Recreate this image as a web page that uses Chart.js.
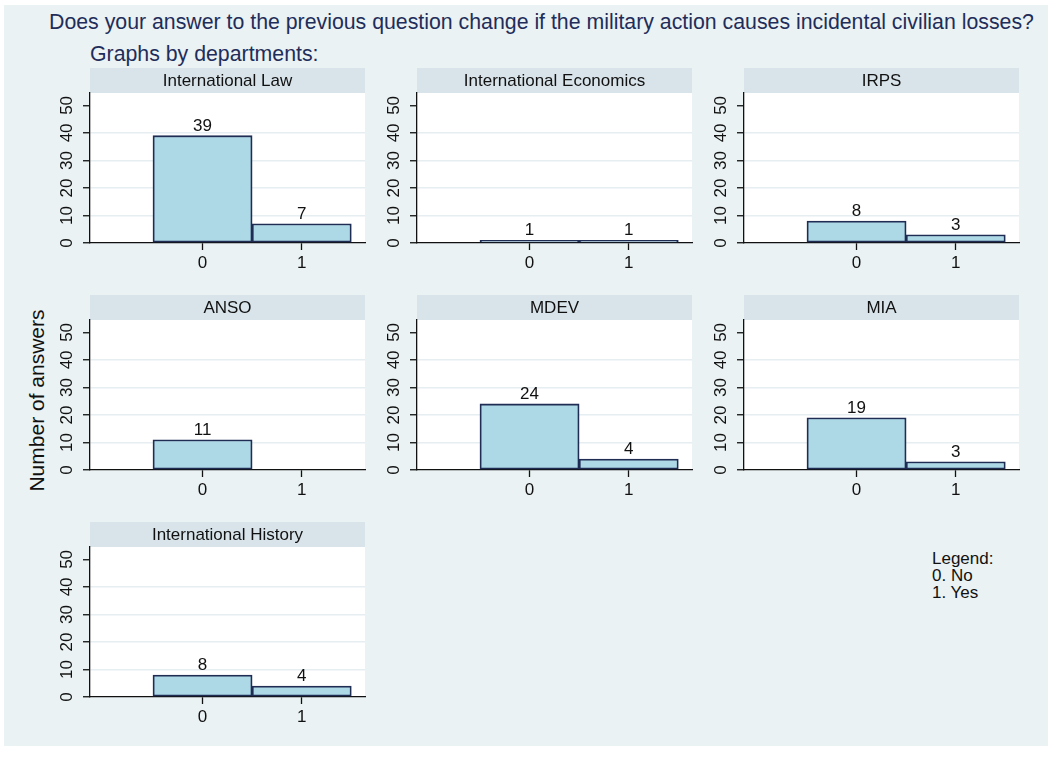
<!DOCTYPE html>
<html>
<head>
<meta charset="utf-8">
<script src="https://cdn.jsdelivr.net/npm/chart.js@4.4.1/dist/chart.umd.min.js"></script>
<style>
  html, body { margin: 0; padding: 0; background: #fff; }
  #page { position: relative; width: 1048px; height: 759px; overflow: hidden; font-family: "Liberation Sans", Arial, Helvetica, sans-serif; }
  #bg { position: absolute; left: 4px; top: 5px; width: 1044px; height: 741px; background: #eaf2f3; }
  .txt { position: absolute; white-space: nowrap; }
  #title { left: 49px; top: 11.6px; font-size: 21.3px; line-height: 21px; color: #1f2d5a; }
  #subtitle { left: 90px; top: 44.4px; font-size: 21.3px; line-height: 21px; color: #1f2d5a; }
  #ytitle { left: -114px; top: 390px; width: 300px; text-align: center; font-size: 21px; line-height: 21px; color: #111; transform: rotate(-90deg); }
  #legend { left: 932px; top: 549.6px; font-size: 17px; line-height: 17px; color: #111; }
  canvas { position: absolute; }
</style>
</head>
<body>
<div id="page">
  <div id="bg"></div>
  <div class="txt" id="title">Does your answer to the previous question change if the military action causes incidental civilian losses?</div>
  <div class="txt" id="subtitle">Graphs by departments:</div>
  <div class="txt" id="ytitle">Number of answers</div>
  <div class="txt" id="legend"></div>
</div>
<script>
// data
const departments = ['International Law', 'International Economics', 'IRPS', 'ANSO', 'MDEV', 'MIA', 'International History'];
const noCounts = [39, 1, 8, 11, 24, 19, 8];
const yesCounts = [7, 1, 3, 0, 4, 3, 4];
const answerCodes = [0, 1];
const yTickValues = [0, 10, 20, 30, 40, 50];
const legendLines = ['Legend:', '0. No', '1. Yes'];

// layout
const plotLefts = [90, 417, 744];
const stripTops = [68, 295, 522];
const stripH = 25, plotW = 275, plotH = 150;
const yAxisW = 50, xAxisH = 40, padRight = 5;
const FONT = '"Liberation Sans", Arial, Helvetica, sans-serif';

document.getElementById('legend').innerHTML = legendLines.join('<br>');

const panelDecor = {
  id: 'panelDecor',
  beforeDraw(chart) {
    const { ctx, chartArea: a } = chart;
    ctx.save();
    ctx.fillStyle = '#d8e4ea';
    ctx.fillRect(a.left, a.top - stripH, a.right - a.left, stripH);
    ctx.fillStyle = '#ffffff';
    ctx.fillRect(a.left, a.top, a.right - a.left, a.bottom - a.top);
    ctx.fillStyle = '#111';
    ctx.font = '17px ' + FONT;
    ctx.textAlign = 'center';
    ctx.textBaseline = 'alphabetic';
    ctx.fillText(chart.options.plugins.panelDecor.name, (a.left + a.right) / 2, a.top - stripH + 17.5);
    ctx.restore();
  },
  afterDatasetsDraw(chart) {
    const { ctx } = chart;
    const meta = chart.getDatasetMeta(0);
    const ds = chart.data.datasets[0].data;
    ctx.save();
    ctx.fillStyle = '#111';
    ctx.font = '17px ' + FONT;
    ctx.textAlign = 'center';
    ctx.textBaseline = 'alphabetic';
    meta.data.forEach((el, i) => {
      const v = ds[i].y;
      if (v === null || v === 0) return;
      ctx.fillText(String(v), el.x, el.y - 5);
    });
    ctx.restore();
  },
  afterDraw(chart) {
    const { ctx, chartArea: a } = chart;
    const ys = chart.scales.y;
    ctx.save();
    ctx.fillStyle = '#111';
    ctx.font = '17px ' + FONT;
    ctx.textAlign = 'center';
    ctx.textBaseline = 'alphabetic';
    ys.ticks.forEach(t => {
      ctx.save();
      ctx.translate(a.left - 18, ys.getPixelForValue(t.value));
      ctx.rotate(-Math.PI / 2);
      ctx.fillText(String(t.value), 0, 0);
      ctx.restore();
    });
    ctx.restore();
  }
};

departments.forEach((dep, i) => {
  const col = i % 3, row = Math.floor(i / 3);
  const cv = document.createElement('canvas');
  const w = yAxisW + plotW + padRight, h = stripH + plotH + xAxisH;
  cv.width = w; cv.height = h;
  cv.style.width = w + 'px'; cv.style.height = h + 'px';
  cv.style.left = (plotLefts[col] - yAxisW) + 'px';
  cv.style.top = stripTops[row] + 'px';
  document.getElementById('page').appendChild(cv);

  const counts = [noCounts[i], yesCounts[i]];
  const points = answerCodes.map((c, k) => ({ x: c, y: counts[k] === 0 ? null : counts[k] }));

  new Chart(cv.getContext('2d'), {
    type: 'bar',
    data: {
      datasets: [{
        data: points,
        backgroundColor: '#add8e6',
        borderColor: '#1f2d55',
        borderWidth: 1.8,
        borderSkipped: false,
        barPercentage: 1,
        categoryPercentage: 1
      }]
    },
    options: {
      responsive: false,
      animation: false,
      events: [],
      layout: { padding: { top: stripH, right: padRight, left: 0, bottom: 0 } },
      plugins: {
        legend: { display: false },
        tooltip: { enabled: false },
        panelDecor: { name: dep }
      },
      scales: {
        x: {
          type: 'linear',
          min: -1.135,
          max: 1.638,
          offset: false,
          afterBuildTicks: s => { s.ticks = answerCodes.map(v => ({ value: v })); },
          afterFit: s => { s.height = xAxisH; s.paddingLeft = 0; s.paddingRight = 0; },
          grid: { offset: false, drawOnChartArea: false, drawTicks: true, tickLength: 7, tickColor: '#111', tickWidth: 1.3 },
          border: { display: true, color: '#111', width: 1.3 },
          ticks: { color: '#111', font: { family: FONT, size: 17 }, padding: 3, callback: v => String(v) }
        },
        y: {
          min: 0,
          max: 54.5,
          afterBuildTicks: s => { s.ticks = yTickValues.map(v => ({ value: v })); },
          afterFit: s => { s.width = yAxisW; s.paddingTop = 0; s.paddingBottom = 0; },
          grid: {
            color: c => (c.tick && (c.tick.value === 0 || c.tick.value === 50)) ? 'rgba(0,0,0,0)' : '#e6eef1',
            lineWidth: 1.5,
            drawTicks: true,
            tickLength: 7,
            tickColor: '#111',
            tickWidth: 1.3
          },
          border: { display: true, color: '#111', width: 1.3 },
          ticks: { display: false }
        }
      }
    },
    plugins: [panelDecor]
  });
});
</script>
</body>
</html>
